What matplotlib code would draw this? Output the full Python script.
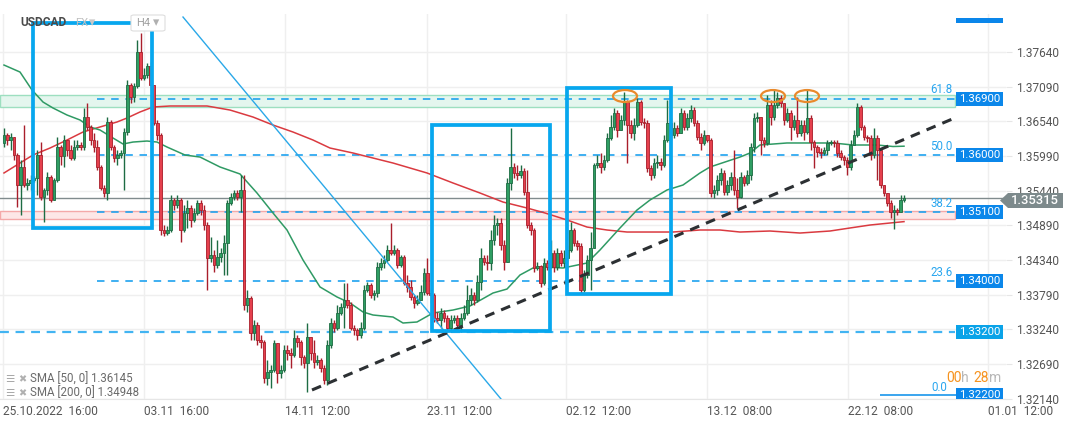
import numpy as np
import matplotlib
matplotlib.use("Agg")
import matplotlib.pyplot as plt
from matplotlib.patches import Rectangle, Ellipse, Polygon, FancyBboxPatch
import matplotlib.transforms as mtransforms

plt.rcParams['font.family'] = ['Roboto', 'DejaVu Sans']

# ---------------- data (USDCAD, H4) ----------------
first_open = 1.3620
closes = [
    1.3632, 1.3624, 1.3629, 1.3601, 1.3553, 1.3582, 1.3553, 1.3556, 1.3561, 1.3564,
    1.3601, 1.3534, 1.3545, 1.3566, 1.3529, 1.3561, 1.3613, 1.3599, 1.3624, 1.3608,
    1.3596, 1.3613, 1.3616, 1.3613, 1.3661, 1.3645, 1.3624, 1.3613, 1.3582, 1.3548,
    1.3540, 1.3653, 1.3613, 1.3596, 1.3601, 1.3604, 1.3637, 1.3712, 1.3693, 1.3710,
    1.3764, 1.3723, 1.3728, 1.3742, 1.3712, 1.3651, 1.3632, 1.3482, 1.3477, 1.3482,
    1.3529, 1.3521, 1.3529, 1.3482, 1.3508, 1.3516, 1.3497, 1.3508, 1.3524, 1.3513,
    1.3490, 1.3437, 1.3442, 1.3426, 1.3439, 1.3445, 1.3461, 1.3524, 1.3534, 1.3540,
    1.3534, 1.3545, 1.3363, 1.3374, 1.3318, 1.3331, 1.3307, 1.3304, 1.3247, 1.3256,
    1.3259, 1.3302, 1.3255, 1.3259, 1.3291, 1.3286, 1.3283, 1.3310, 1.3304, 1.3280,
    1.3270, 1.3312, 1.3286, 1.3272, 1.3275, 1.3263, 1.3243, 1.3299, 1.3334, 1.3326,
    1.3350, 1.3359, 1.3370, 1.3363, 1.3326, 1.3323, 1.3315, 1.3326, 1.3386, 1.3394,
    1.3378, 1.3381, 1.3423, 1.3429, 1.3434, 1.3450, 1.3445, 1.3450, 1.3426, 1.3439,
    1.3397, 1.3391, 1.3375, 1.3366, 1.3370, 1.3383, 1.3413, 1.3381, 1.3378, 1.3342,
    1.3339, 1.3350, 1.3342, 1.3326, 1.3339, 1.3342, 1.3331, 1.3342, 1.3350, 1.3370,
    1.3378, 1.3370, 1.3399, 1.3437, 1.3431, 1.3429, 1.3466, 1.3490, 1.3493, 1.3458,
    1.3431, 1.3556, 1.3582, 1.3572, 1.3569, 1.3575, 1.3542, 1.3490, 1.3482, 1.3421,
    1.3424, 1.3397, 1.3429, 1.3423, 1.3445, 1.3423, 1.3445, 1.3429, 1.3437, 1.3450,
    1.3482, 1.3461, 1.3456, 1.3386, 1.3410, 1.3434, 1.3453, 1.3585, 1.3588, 1.3582,
    1.3593, 1.3628, 1.3645, 1.3667, 1.3640, 1.3656, 1.3685, 1.3648, 1.3635, 1.3648,
    1.3685, 1.3653, 1.3651, 1.3580, 1.3569, 1.3588, 1.3589, 1.3585, 1.3624, 1.3651,
    1.3632, 1.3643, 1.3635, 1.3667, 1.3645, 1.3659, 1.3672, 1.3651, 1.3629, 1.3620,
    1.3632, 1.3624, 1.3540, 1.3545, 1.3561, 1.3572, 1.3542, 1.3553, 1.3566, 1.3545,
    1.3534, 1.3566, 1.3556, 1.3569, 1.3613, 1.3659, 1.3661, 1.3624, 1.3620, 1.3680,
    1.3661, 1.3680, 1.3691, 1.3683, 1.3656, 1.3667, 1.3645, 1.3656, 1.3635, 1.3648,
    1.3637, 1.3659, 1.3621, 1.3613, 1.3605, 1.3604, 1.3608, 1.3620, 1.3621, 1.3620,
    1.3604, 1.3597, 1.3593, 1.3582, 1.3616, 1.3632, 1.3677, 1.3645, 1.3629, 1.3628,
    1.3601, 1.3628, 1.3608, 1.3553, 1.3540, 1.3524, 1.3510, 1.3513, 1.3510, 1.3529, 1.35315,
]
highs = [
    1.3643, 1.3635, 1.3635, 1.3629, 1.3604, 1.3593, 1.3648, 1.3564, 1.3569, 1.3567,
    1.3608, 1.3621, 1.3548, 1.3574, 1.3569, 1.3564, 1.3629, 1.3616, 1.3632, 1.3624,
    1.3616, 1.3624, 1.3624, 1.3621, 1.3675, 1.3683, 1.3648, 1.3635, 1.3624, 1.3585,
    1.3553, 1.3661, 1.3656, 1.3616, 1.3608, 1.3608, 1.3643, 1.3720, 1.3715, 1.3715,
    1.3783, 1.3794, 1.3739, 1.3747, 1.3748, 1.3712, 1.3656, 1.3635, 1.3490, 1.3488,
    1.3537, 1.3532, 1.3537, 1.3532, 1.3521, 1.3529, 1.3521, 1.3516, 1.3529, 1.3529,
    1.3521, 1.3494, 1.3470, 1.3450, 1.3466, 1.3453, 1.3474, 1.3529, 1.3540, 1.3545,
    1.3545, 1.3569, 1.3569, 1.3386, 1.3377, 1.3339, 1.3336, 1.3315, 1.3307, 1.3275,
    1.3267, 1.3307, 1.3302, 1.3267, 1.3299, 1.3299, 1.3294, 1.3323, 1.3315, 1.3307,
    1.3283, 1.3334, 1.3312, 1.3307, 1.3283, 1.3278, 1.3267, 1.3307, 1.3342, 1.3339,
    1.3363, 1.3366, 1.3397, 1.3397, 1.3367, 1.3331, 1.3326, 1.3336, 1.3394, 1.3399,
    1.3397, 1.3386, 1.3431, 1.3437, 1.3442, 1.3458, 1.3493, 1.3458, 1.3453, 1.3442,
    1.3442, 1.3410, 1.3402, 1.3378, 1.3378, 1.3394, 1.3421, 1.3437, 1.3389, 1.3381,
    1.3351, 1.3358, 1.3355, 1.3347, 1.3347, 1.3347, 1.3347, 1.3350, 1.3363, 1.3394,
    1.3389, 1.3383, 1.3410, 1.3453, 1.3442, 1.3442, 1.3482, 1.3505, 1.3501, 1.3501,
    1.3466, 1.3564, 1.3643, 1.3588, 1.3585, 1.3585, 1.3580, 1.3577, 1.3494, 1.3485,
    1.3431, 1.3426, 1.3437, 1.3434, 1.3466, 1.3450, 1.3453, 1.3450, 1.3450, 1.3458,
    1.3494, 1.3485, 1.3466, 1.3461, 1.3418, 1.3442, 1.3478, 1.3588, 1.3601, 1.3604,
    1.3601, 1.3635, 1.3664, 1.3675, 1.3672, 1.3664, 1.3700, 1.3688, 1.3656, 1.3659,
    1.3691, 1.3688, 1.3659, 1.3656, 1.3585, 1.3596, 1.3601, 1.3596, 1.3632, 1.3688,
    1.3659, 1.3653, 1.3648, 1.3675, 1.3672, 1.3667, 1.3680, 1.3677, 1.3656, 1.3635,
    1.3640, 1.3632, 1.3628, 1.3553, 1.3569, 1.3580, 1.3577, 1.3561, 1.3574, 1.3608,
    1.3564, 1.3574, 1.3569, 1.3577, 1.3620, 1.3667, 1.3669, 1.3661, 1.3629, 1.3696,
    1.3688, 1.3704, 1.3700, 1.3696, 1.3683, 1.3675, 1.3672, 1.3664, 1.3693, 1.3656,
    1.3656, 1.3704, 1.3664, 1.3624, 1.3616, 1.3612, 1.3613, 1.3624, 1.3624, 1.3624,
    1.3624, 1.3608, 1.3601, 1.3597, 1.3624, 1.3640, 1.3683, 1.3680, 1.3648, 1.3632,
    1.3632, 1.3643, 1.3632, 1.3577, 1.3553, 1.3540, 1.3529, 1.3521, 1.3516, 1.3537, 1.3537,
]
lows = [
    1.3613, 1.3616, 1.3608, 1.3593, 1.3518, 1.3505, 1.3550, 1.3545, 1.3545, 1.3558,
    1.3537, 1.3529, 1.3494, 1.3537, 1.3526, 1.3529, 1.3558, 1.3585, 1.3582, 1.3599,
    1.3593, 1.3593, 1.3608, 1.3608, 1.3608, 1.3640, 1.3616, 1.3605, 1.3577, 1.3545,
    1.3534, 1.3529, 1.3608, 1.3589, 1.3585, 1.3596, 1.3545, 1.3632, 1.3683, 1.3685,
    1.3707, 1.3720, 1.3720, 1.3723, 1.3704, 1.3648, 1.3624, 1.3474, 1.3472, 1.3474,
    1.3478, 1.3513, 1.3516, 1.3462, 1.3478, 1.3485, 1.3486, 1.3494, 1.3505, 1.3505,
    1.3482, 1.3386, 1.3431, 1.3415, 1.3421, 1.3431, 1.3410, 1.3410, 1.3521, 1.3529,
    1.3529, 1.3510, 1.3355, 1.3351, 1.3307, 1.3307, 1.3299, 1.3294, 1.3239, 1.3236,
    1.3231, 1.3256, 1.3239, 1.3247, 1.3256, 1.3275, 1.3263, 1.3280, 1.3296, 1.3267,
    1.3263, 1.3224, 1.3275, 1.3263, 1.3267, 1.3256, 1.3237, 1.3236, 1.3294, 1.3320,
    1.3323, 1.3347, 1.3326, 1.3358, 1.3323, 1.3315, 1.3307, 1.3310, 1.3323, 1.3383,
    1.3374, 1.3370, 1.3375, 1.3418, 1.3421, 1.3431, 1.3442, 1.3442, 1.3421, 1.3423,
    1.3394, 1.3383, 1.3370, 1.3358, 1.3363, 1.3370, 1.3378, 1.3378, 1.3366, 1.3336,
    1.3334, 1.3326, 1.3336, 1.3320, 1.3320, 1.3334, 1.3323, 1.3320, 1.3339, 1.3347,
    1.3363, 1.3363, 1.3367, 1.3386, 1.3426, 1.3418, 1.3418, 1.3458, 1.3474, 1.3450,
    1.3418, 1.3437, 1.3545, 1.3564, 1.3561, 1.3564, 1.3537, 1.3485, 1.3474, 1.3415,
    1.3418, 1.3391, 1.3394, 1.3418, 1.3421, 1.3415, 1.3418, 1.3424, 1.3423, 1.3431,
    1.3447, 1.3456, 1.3450, 1.3382, 1.3383, 1.3405, 1.3386, 1.3466, 1.3580, 1.3572,
    1.3577, 1.3589, 1.3624, 1.3640, 1.3629, 1.3643, 1.3648, 1.3588, 1.3628, 1.3624,
    1.3645, 1.3648, 1.3643, 1.3574, 1.3561, 1.3564, 1.3580, 1.3577, 1.3582, 1.3621,
    1.3624, 1.3628, 1.3631, 1.3635, 1.3640, 1.3640, 1.3653, 1.3646, 1.3624, 1.3608,
    1.3616, 1.3621, 1.3534, 1.3532, 1.3537, 1.3553, 1.3537, 1.3537, 1.3545, 1.3537,
    1.3516, 1.3532, 1.3551, 1.3553, 1.3561, 1.3605, 1.3653, 1.3601, 1.3613, 1.3616,
    1.3648, 1.3656, 1.3675, 1.3677, 1.3648, 1.3653, 1.3624, 1.3640, 1.3629, 1.3631,
    1.3624, 1.3634, 1.3608, 1.3580, 1.3597, 1.3596, 1.3601, 1.3601, 1.3616, 1.3613,
    1.3597, 1.3593, 1.3585, 1.3569, 1.3577, 1.3624, 1.3629, 1.3640, 1.3624, 1.3621,
    1.3593, 1.3596, 1.3561, 1.3548, 1.3536, 1.3520, 1.3501, 1.3483, 1.3505, 1.3510, 1.3526,
]

sma50_idx = [0, 4.8, 8.4, 11.7, 14.7, 18.9, 22.8, 25.8, 28.8, 32.7, 35.7, 38.7, 42.9, 45.9,
             48.9, 54.3, 58.8, 64.8, 70.8, 75.9, 80.7, 84.9, 89.7, 94.8, 99.9, 103.8, 107.7,
             110.7, 116.7, 119.7, 123.9, 128.7, 134.7, 139.8, 146.7, 150.9, 154.8, 158.7,
             162.3, 167.7, 174.9, 178.8, 184.8, 189.9, 193.8, 198.9, 203.7, 208.8, 211.8,
             216.3, 220.8, 223.8, 226.8, 234.9, 239.7, 244.8, 248.7, 254.7, 261.9, 266.7, 270]
sma50_val = [1.37433, 1.37322, 1.37037, 1.36846, 1.36751, 1.36640, 1.36561, 1.36450, 1.36402,
             1.36275, 1.36180, 1.36211, 1.36227, 1.36211, 1.36132, 1.36005, 1.35973, 1.35815,
             1.35704, 1.35402, 1.35085, 1.34815, 1.34339, 1.33911, 1.33752, 1.33657, 1.33514,
             1.33466, 1.33434, 1.33339, 1.33355, 1.33498, 1.33545, 1.33609, 1.33815, 1.33878,
             1.34101, 1.34212, 1.34228, 1.34212, 1.34291, 1.34498, 1.34847, 1.35132, 1.35291,
             1.35450, 1.35529, 1.35720, 1.35815, 1.35894, 1.35973, 1.36037, 1.36164, 1.36196,
             1.36196, 1.36196, 1.36196, 1.36164, 1.36164, 1.36140, 1.36145]
sma200_idx = [0, 4.8, 8.7, 13.8, 18.9, 23.7, 28.8, 33.9, 36.9, 40.8, 44.7, 49.8, 54.3, 60.9,
              67.8, 74.7, 80.7, 86.7, 92.7, 97.8, 104.7, 108.3, 116.7, 126.9, 134.7, 142.8,
              149.7, 156.9, 162.3, 168.9, 174.9, 180.9, 186.9, 193.8, 200.7, 208.8, 214.8,
              220.8, 229.8, 238.8, 247.8, 253.8, 259.8, 265.8, 270]
sma200_val = [1.35720, 1.35878, 1.36005, 1.36116, 1.36243, 1.36370, 1.36450, 1.36529, 1.36592,
              1.36688, 1.36767, 1.36783, 1.36783, 1.36783, 1.36719, 1.36608, 1.36481, 1.36370,
              1.36243, 1.36116, 1.36037, 1.35989, 1.35878, 1.35720, 1.35561, 1.35402, 1.35259,
              1.35164, 1.35085, 1.34974, 1.34862, 1.34815, 1.34783, 1.34783, 1.34783, 1.34815,
              1.34815, 1.34783, 1.34799, 1.34767, 1.34799, 1.34847, 1.34894, 1.34926, 1.34948]

price_ticks = [1.32140, 1.32690, 1.33240, 1.33790, 1.34340, 1.34890, 1.35440, 1.35990,
               1.36540, 1.37090, 1.37640]
date_labels = ["25.10.2022  16:00", "03.11  16:00", "14.11  12:00", "23.11  12:00",
               "02.12  12:00", "13.12  08:00", "22.12  08:00", "01.01  12:00"]
date_pos = [-0.3, 42.0, 84.3, 126.9, 168.6, 210.9, 253.2, 295.2]

fib_names = ["61.8", "50.0", "38.2", "23.6", "0.0"]
fib_levels = [1.3690, 1.3600, 1.3510, 1.3400, 1.3220]
support_level = 1.3320
last_price = 1.35315
sma50_last = 1.36145
sma200_last = 1.34948
green_zone = (1.36772, 1.36957)
red_zone = (1.34989, 1.35116)
boxes = [(8.7, 44.4, 1.34847, 1.38100), (128.4, 163.8, 1.33215, 1.36481),
         (168.9, 200.1, 1.33799, 1.37068)]
top_marks = [(186.3, 1.36941), (230.7, 1.36941), (240.9, 1.36941)]
blue_trend = ([53.7, 149.1], [1.38195, 1.32133])
black_trend = ([92.4, 285.9], [1.32276, 1.36608])

# ---------------- figure ----------------
W, H = 1072, 425
fig = plt.figure(figsize=(W / 100, H / 100), dpi=100)
fig.patch.set_facecolor('white')
AX_R, AX_T, AX_B = 1006, 14, 399
ax = fig.add_axes([0, 1 - AX_B / H, AX_R / W, (AX_B - AX_T) / H])
ax.set_facecolor('white')
ax.set_xlim(-1.2, 300.6)
ax.set_ylim(1.32133, 1.38243)

def fx(px):
    return px / W

def fy(py):
    return 1 - py / H

blend = mtransforms.blended_transform_factory(fig.transFigure, ax.transData)

for s in ['top', 'left', 'right']:
    ax.spines[s].set_visible(False)
ax.spines['bottom'].set_color('#e6e6e6')

ax.yaxis.tick_right()
ax.set_yticks(price_ticks)
ax.set_yticklabels([f"{p:.5f}" for p in price_ticks])
ax.set_xticks(date_pos)
ax.set_xticklabels(date_labels, ha='left')
ax.tick_params(axis='y', length=4, color='#e6e6e6', pad=3, labelsize=8.6, labelcolor='#555555')
ax.tick_params(axis='x', length=0, pad=4, labelsize=8.6, labelcolor='#555555')
ax.grid(True, color='#efefef', lw=1, zorder=0)
ax.set_axisbelow(True)

x_end = 285.3
fib_start = 27.9

# zones
ax.add_patch(Rectangle((-1.2, green_zone[0]), x_end + 1.2, green_zone[1] - green_zone[0],
                       facecolor='#e4f6ee', edgecolor='#9ddfc0', lw=1.0, zorder=1))
ax.add_patch(Rectangle((-1.2, red_zone[0]), x_end + 1.2, red_zone[1] - red_zone[0],
                       facecolor='#fde7e7', edgecolor='#f4a9a9', lw=1.0, zorder=1))

# current price line
ax.axhline(last_price, color='#808b8d', lw=1.0, zorder=2)

# fib levels
for name, lvl in zip(fib_names, fib_levels):
    if name == "0.0":
        ax.plot([262.8, x_end + 0.9], [lvl, lvl], color='#3aa5ee', lw=1.4, zorder=2,
                solid_capstyle='butt')
        off, xr = 0.0001, 283.0
    else:
        ax.hlines(lvl, fib_start, x_end, colors='#1ea2ef', lw=1.2,
                  linestyles=(0, (4.5, 4.0)), zorder=2)
        off, xr = 0.0004, 284.6
    ax.text(xr, lvl + off, name, ha='right', va='bottom', color='#29a6ef',
            fontsize=8.3, zorder=6)
ax.hlines(support_level, -1.2, x_end, colors='#42b4f2', lw=1.6,
          linestyles=(0, (4.0, 3.0)), zorder=2)

# SMA lines
ax.plot(sma200_idx, sma200_val, color='#da3a40', lw=1.1, zorder=3)
ax.plot(sma50_idx, sma50_val, color='#2f9a64', lw=1.1, zorder=3)

# candles
c = np.array(closes)
o = np.r_[first_open, c[:-1]]
hi = np.maximum(np.array(highs), np.maximum(o, c))
lo = np.minimum(np.array(lows), np.minimum(o, c))
idx = np.arange(len(c))
up = c >= o
face = np.where(up, '#2f9e63', '#e5404d')
edge = np.where(up, '#1d6c43', '#a91e2b')
ax.vlines(idx, lo, hi, colors=edge, lw=1.0, zorder=4)
bottom = np.minimum(o, c)
height = np.maximum(np.abs(c - o), 0.00005)
ax.bar(idx, height, bottom=bottom, width=0.78, color=face, edgecolor=edge,
       linewidth=0.6, zorder=5)

# trend lines
ax.plot(*blue_trend, color='#2aa8e8', lw=1.0, zorder=6)
ax.plot(*black_trend, color='#2c3033', lw=2.2, linestyle=(0, (3.2, 2.4)), zorder=7)

# boxes
for x0, x1, y0, y1 in boxes:
    ax.add_patch(Rectangle((x0, y0), x1 - x0, y1 - y0, fill=False,
                           edgecolor='#07a7ee', lw=2.7, zorder=8))

# highlight ellipses
for cx, cy in top_marks:
    ax.add_patch(Ellipse((cx, cy), 7.2, 0.0019, fill=False, edgecolor='#e98a2c',
                         lw=1.6, zorder=9))

# right price boxes for levels
box_levels = fib_levels + [support_level]
for lvl in box_levels:
    colr = '#0aa3e8' if lvl == support_level else '#0b87ea'
    ax.add_patch(Rectangle((fx(956), lvl - 0.00111), 47 / W, 0.00222, transform=blend,
                           facecolor=colr, edgecolor='none', zorder=10, clip_on=True))
    ax.text(fx(979.5), lvl, f"{lvl:.5f}", transform=blend, ha='center', va='center',
            color='white', fontsize=8.2, zorder=11, clip_on=True)

# header
fig.text(fx(20), fy(23), "USDCAD", ha='left', va='center', fontsize=8.6,
         color='#4a4a4a', fontweight='bold', zorder=1)
fig.text(fx(75), fy(23), "FX", ha='left', va='center', fontsize=8, color='#c0c0c0', zorder=1)
fig.text(fx(89), fy(23), "▾", ha='left', va='center', fontsize=9, color='#c8c8c8',
         family='DejaVu Sans', zorder=1)
fig.patches.append(FancyBboxPatch((fx(131), fy(31)), 34 / W, 16 / H,
                                  boxstyle="round,pad=0,rounding_size=0.003",
                                  transform=fig.transFigure, facecolor='white',
                                  edgecolor='#dedede', lw=0.8, zorder=0.5))
fig.text(fx(136), fy(23), "H4", ha='left', va='center', fontsize=8, color='#a0a0a0', zorder=1)
fig.text(fx(153), fy(23), "▾", ha='left', va='center', fontsize=9, color='#b0b0b0',
         family='DejaVu Sans', zorder=1)

# top-right blue bar
fig.add_artist(Rectangle((fx(956), fy(23)), 47 / W, 5 / H, transform=fig.transFigure,
                         facecolor='#0a86ea', edgecolor='none', zorder=5))

# current price tag
tag = Polygon([(fx(1000), fy(200.5)), (fx(1008), fy(193)), (fx(1063), fy(193)),
               (fx(1063), fy(208)), (fx(1008), fy(208))], closed=True,
              transform=fig.transFigure, facecolor='#7d8a8c', edgecolor='none', zorder=5)
fig.add_artist(tag)
fig.text(fx(1035), fy(200.5), f"{last_price:.5f}", ha='center', va='center',
         color='white', fontsize=9.4, fontweight='medium', zorder=6)

# timer
for px, s, colr in [(946, "00", '#f6931f'), (961.5, "h", '#b8b8b8'),
                    (973, "28", '#f6931f'), (988.5, "m", '#b8b8b8')]:
    fig.text(fx(px), fy(377.5), s, ha='left', va='center', fontsize=10, color=colr, zorder=6)

# SMA legend
for row_y, txt in [(379, f"SMA [50, 0] {sma50_last:.5f}"), (393, f"SMA [200, 0] {sma200_last:.5f}")]:
    fig.text(fx(5), fy(row_y), "☰", ha='left', va='center', fontsize=7.5, color='#a8a8a8',
             family='DejaVu Sans', zorder=6)
    fig.text(fx(18.5), fy(row_y), "✖", ha='left', va='center', fontsize=7, color='#b0b0b0',
             family='DejaVu Sans', zorder=6)
    fig.text(fx(30), fy(row_y), txt, ha='left', va='center', fontsize=8.3, color='#6a6a6a',
             zorder=6)

fig.savefig("out.png", dpi=100)
